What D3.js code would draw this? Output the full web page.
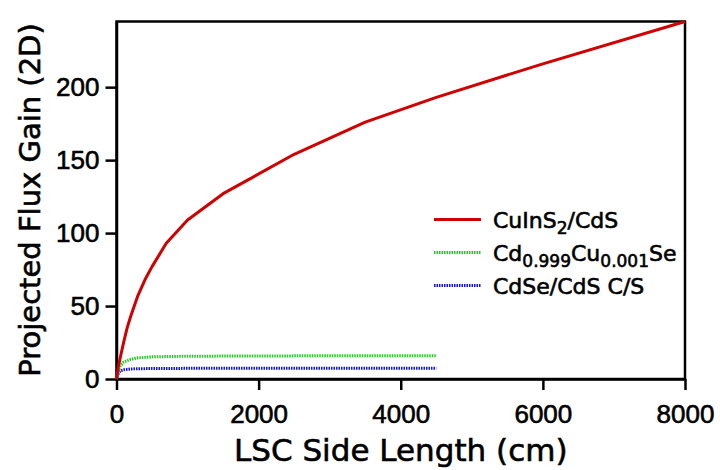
<!DOCTYPE html>
<html>
<head>
<meta charset="utf-8">
<script src="https://cdn.jsdelivr.net/npm/d3@7"></script>
<style>
  body { margin: 0; background: #fff; }
  svg { display: block; font-family: "DejaVu Sans", sans-serif; }
  text { fill: #000; stroke: #000; stroke-width: 0.6px; }
</style>
</head>
<body>
<div id="chart"></div>
<script>
// side lengths (cm) and flux gains
let cuinsX = [0, 25, 50, 100, 150, 200, 300, 400, 500, 700, 1000, 1500, 2500, 3500, 4500, 6000, 8000]
let cuinsY = [0, 8, 14, 25, 35, 43, 57, 68, 77, 93, 109, 127, 154, 176, 193, 216, 245]

let cdcuX = [0, 25, 50, 100, 200, 300, 500, 1000, 2000, 3000, 4500]
let cdcuY = [0, 5, 8.5, 11.5, 13.5, 14.5, 15.2, 15.6, 15.8, 15.9, 16]

let cdseX = [0, 25, 50, 100, 200, 500, 1000, 2000, 4500]
let cdseY = [0, 3.5, 5.5, 6.3, 6.9, 7.2, 7.3, 7.3, 7.3]

let xTicks = [0, 2000, 4000, 6000, 8000]
let yTicks = [0, 50, 100, 150, 200]

// set the dimensions and margins of the graph
let width = 720, height = 470
let margin = {top: 21.5, right: 35, bottom: 91, left: 116.5}

let svg = d3.select("#chart")
    .append("svg")
    .attr("width", width)
    .attr("height", height)

let x = d3.scaleLinear()
    .domain([0, 8000])
    .range([margin.left, width - margin.right])

let y = d3.scaleLinear()
    .domain([0, 245])
    .range([height - margin.bottom, margin.top])

// frame around the plot
svg.append("rect")
    .attr("x", margin.left)
    .attr("y", margin.top)
    .attr("width", width - margin.right - margin.left)
    .attr("height", height - margin.bottom - margin.top)
    .attr("fill", "none")
    .attr("stroke", "#000")
    .attr("stroke-width", 2.5)

// x axis
let xAxis = svg.append("g")
    .attr("transform", "translate(0," + (height - margin.bottom) + ")")
    .call(d3.axisBottom(x).tickValues(xTicks).tickFormat(d3.format("d"))
        .tickSize(11).tickPadding(15).tickSizeOuter(0))
xAxis.selectAll("text").style("font-size", "26px")

// y axis
let yAxis = svg.append("g")
    .attr("transform", "translate(" + margin.left + ",0)")
    .call(d3.axisLeft(y).tickValues(yTicks).tickFormat(d3.format("d"))
        .tickSize(11).tickPadding(6).tickSizeOuter(0))
yAxis.selectAll("text").style("font-size", "26px")

svg.selectAll(".domain").attr("stroke-width", 2.5)
svg.selectAll(".tick line").attr("stroke-width", 2.5)

// axis labels
svg.append("text")
    .attr("x", (margin.left + width - margin.right) / 2)
    .attr("y", 461)
    .style("text-anchor", "middle")
    .style("font-size", "31px")
    .text("LSC Side Length (cm)")

svg.append("text")
    .attr("transform", "rotate(-90)")
    .attr("x", -200)
    .attr("y", 40)
    .style("text-anchor", "middle")
    .style("font-size", "29px")
    .text("Projected Flux Gain (2D)")

// series
let series = [
    {xs: cuinsX, ys: cuinsY, color: "#d00000", dash: null},
    {xs: cdcuX, ys: cdcuY, color: "#22cc22", dash: "1.5,1"},
    {xs: cdseX, ys: cdseY, color: "#1010ff", dash: "1.5,1"}
]

let line = d3.line()
    .x(function(d) {return x(d[0])})
    .y(function(d) {return y(d[1])})

series.slice().reverse().forEach(function(s) {
    svg.append("path")
        .datum(d3.zip(s.xs, s.ys))
        .attr("d", line)
        .attr("fill", "none")
        .attr("stroke", s.color)
        .attr("stroke-width", 3)
        .attr("stroke-linejoin", "round")
        .attr("stroke-dasharray", s.dash)
})

// legend
let legendRows = [
    [{t: "CuInS"}, {t: "2", sub: true}, {t: "/CdS"}],
    [{t: "Cd"}, {t: "0.999", sub: true}, {t: "Cu"}, {t: "0.001", sub: true}, {t: "Se"}],
    [{t: "CdSe/CdS C/S"}]
]
let legendY = [219.5, 252.5, 285.5]

series.forEach(function(s, i) {
    svg.append("line")
        .attr("x1", 434)
        .attr("x2", 481)
        .attr("y1", legendY[i])
        .attr("y2", legendY[i])
        .attr("stroke", s.color)
        .attr("stroke-width", 3)
        .attr("stroke-dasharray", s.dash)

    let txt = svg.append("text")
        .attr("x", 493)
        .attr("y", legendY[i] + 8)
        .style("font-size", "22px")
    legendRows[i].forEach(function(p, j) {
        let prev = j > 0 && legendRows[i][j - 1].sub
        txt.append("tspan")
            .attr("dy", p.sub ? 6 : (prev ? -6 : 0))
            .style("font-size", p.sub ? "17px" : "22px")
            .text(p.t)
    })
})
</script>
</body>
</html>
